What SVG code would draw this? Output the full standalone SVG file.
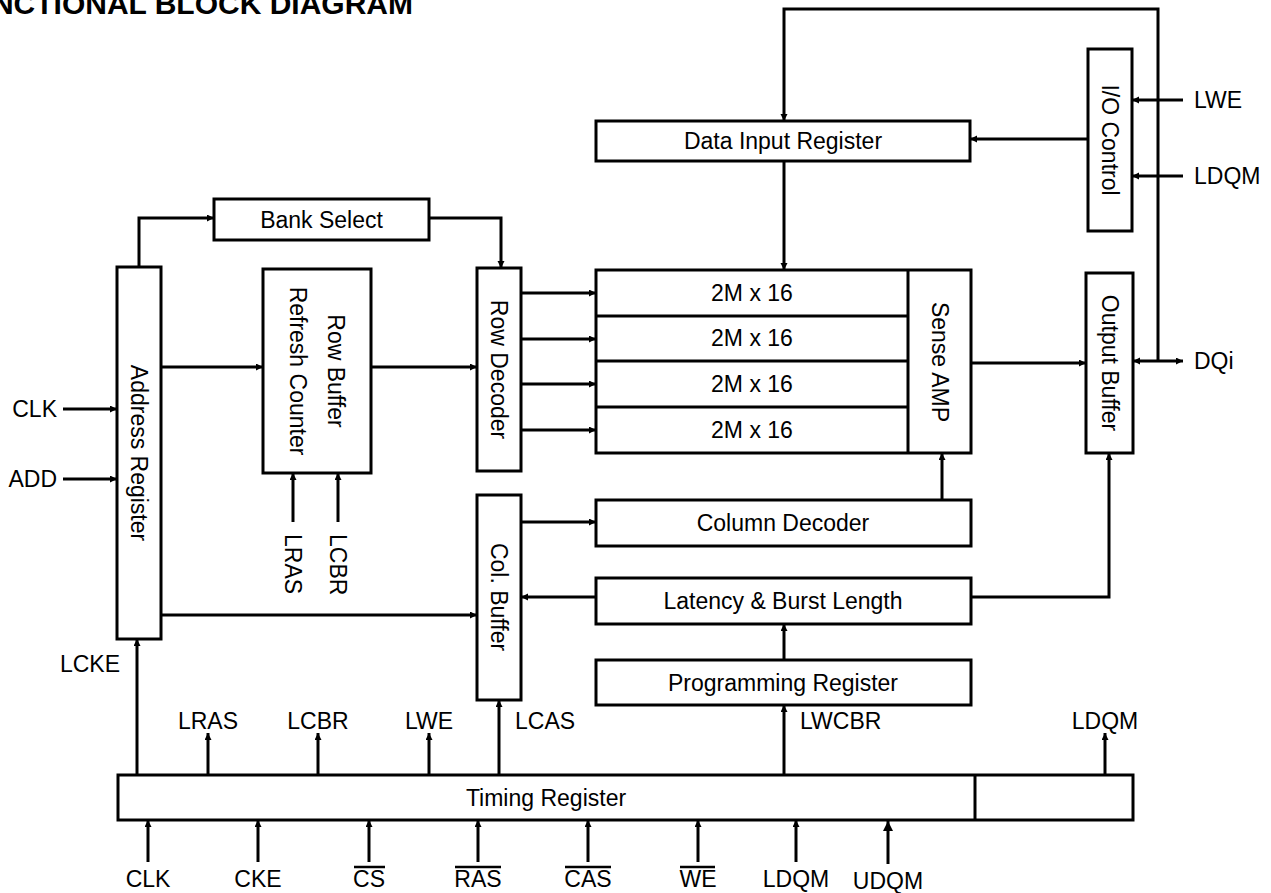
<svg xmlns="http://www.w3.org/2000/svg" width="1271" height="893" viewBox="0 0 1271 893">
<style>
text{font-family:"Liberation Sans",Arial,sans-serif;font-size:23px;fill:#000}
.t{font-size:30px;font-weight:bold}
.m{text-anchor:middle}
.e{text-anchor:end}
.b{fill:#fff;stroke:#000;stroke-width:3}
.c{fill:none;stroke:#000;stroke-width:3}
.a{marker-end:url(#ah)}
.ol{stroke:#000;stroke-width:2.5}
</style>
<defs>
<marker id="ah" markerUnits="userSpaceOnUse" markerWidth="8" markerHeight="8" refX="7" refY="3.5" orient="auto-start-reverse"><path d="M0,0 L7,3.5 L0,7 z" fill="#000"/></marker>
<marker id="ahb" markerUnits="userSpaceOnUse" markerWidth="12" markerHeight="12" refX="10" refY="5" orient="auto"><path d="M0,0 L10,5 L0,10 z" fill="#000"/></marker>
</defs>
<rect width="1271" height="893" fill="#fff"/>
<text class="t e" x="413" y="14">NCTIONAL BLOCK DIAGRAM</text>

<g id="connectors">
<path class="c a" d="M139,267 V218 H214"/>
<path class="c a" d="M429,218 H501 V268"/>
<path class="c a" d="M161,367 H263"/>
<path class="c a" d="M371,367 H477"/>
<path class="c a" d="M521,293 H596"/>
<path class="c a" d="M521,339 H596"/>
<path class="c a" d="M521,384 H596"/>
<path class="c a" d="M521,430 H596"/>
<path class="c a" d="M161,615 H477"/>
<path class="c a" d="M521,522 H596"/>
<path class="c a" d="M596,597 H521"/>
<path class="c a" d="M971,597 H1109 V453"/>
<path class="c a" d="M942,500 V453"/>
<path class="c a" d="M784,660 V624"/>
<path class="c a" d="M971,363 H1086"/>
<path class="c a" d="M784,161 V270"/>
<path class="c a" d="M1088,139 H970"/>
<path class="c a" d="M1158,361 V9 H784 V121"/>
<path class="c a" d="M1133,361 H1183" marker-start="url(#ah)"/>
<path class="c a" d="M1183,100 H1132"/>
<path class="c a" d="M1183,176 H1132"/>
<path class="c a" d="M63,409 H117"/>
<path class="c a" d="M63,479 H117"/>
<path class="c a" d="M137,775 V639"/>
<path class="c a" d="M293,522 V473"/>
<path class="c a" d="M338,522 V473"/>
<path class="c a" d="M208,775 V733"/>
<path class="c a" d="M318,775 V733"/>
<path class="c a" d="M429,775 V733"/>
<path class="c a" d="M499,775 V700"/>
<path class="c a" d="M784,775 V705"/>
<path class="c a" d="M1105,775 V733"/>
<path class="c a" d="M148,862 V820"/>
<path class="c a" d="M258,862 V820"/>
<path class="c a" d="M369,862 V820"/>
<path class="c a" d="M478,862 V820"/>
<path class="c a" d="M588,862 V820"/>
<path class="c a" d="M698,862 V820"/>
<path class="c a" d="M796,862 V820"/>
<path class="c" d="M888,864 V821" marker-end="url(#ahb)"/>
</g>

<g id="address-register">
<rect class="b" x="117" y="267" width="44" height="372"/>
<text class="m" transform="translate(131,453) rotate(90)">Address Register</text>
</g>
<g id="bank-select">
<rect class="b" x="214" y="199" width="215" height="41"/>
<text class="m" x="321.5" y="228">Bank Select</text>
</g>
<g id="row-buffer">
<rect class="b" x="263" y="269" width="108" height="204"/>
<text class="m" transform="translate(328,371) rotate(90)">Row Buffer</text>
<text class="m" transform="translate(290,371) rotate(90)">Refresh Counter</text>
</g>
<g id="row-decoder">
<rect class="b" x="477" y="268" width="44" height="203"/>
<text class="m" transform="translate(491,369.5) rotate(90)">Row Decoder</text>
</g>
<g id="col-buffer">
<rect class="b" x="477" y="495" width="44" height="205"/>
<text class="m" transform="translate(491,597) rotate(90)">Col. Buffer</text>
</g>
<g id="memory-array">
<rect class="b" x="596" y="270" width="375" height="183"/>
<path class="c" d="M908,270 V453 M596,316 H908 M596,361 H908 M596,407 H908"/>
<text class="m" x="752" y="301">2M x 16</text>
<text class="m" x="752" y="346">2M x 16</text>
<text class="m" x="752" y="392">2M x 16</text>
<text class="m" x="752" y="438">2M x 16</text>
<text class="m" transform="translate(932,362) rotate(90)">Sense AMP</text>
</g>
<g id="data-input-register">
<rect class="b" x="596" y="121" width="374" height="40"/>
<text class="m" x="783" y="149">Data Input Register</text>
</g>
<g id="io-control">
<rect class="b" x="1088" y="49" width="44" height="182"/>
<text class="m" transform="translate(1102,140) rotate(90)">I/O Control</text>
</g>
<g id="output-buffer">
<rect class="b" x="1086" y="273" width="47" height="180"/>
<text class="m" transform="translate(1101.5,363) rotate(90)">Output Buffer</text>
</g>
<g id="column-decoder">
<rect class="b" x="596" y="500" width="375" height="46"/>
<text class="m" x="783" y="531">Column Decoder</text>
</g>
<g id="latency-burst-length">
<rect class="b" x="596" y="578" width="375" height="46"/>
<text class="m" x="783" y="609">Latency &amp; Burst Length</text>
</g>
<g id="programming-register">
<rect class="b" x="596" y="660" width="375" height="45"/>
<text class="m" x="783" y="691">Programming Register</text>
</g>
<g id="timing-register">
<rect class="b" x="118" y="775" width="1015" height="45"/>
<path class="c" d="M975,775 V820"/>
<text class="m" x="546" y="806">Timing Register</text>
</g>

<g id="labels">
<text class="e" x="57" y="417">CLK</text>
<text class="e" x="57" y="487">ADD</text>
<text class="e" x="120" y="672">LCKE</text>
<text transform="translate(285,534) rotate(90)">LRAS</text>
<text transform="translate(330,534) rotate(90)">LCBR</text>
<text class="m" x="208" y="729">LRAS</text>
<text class="m" x="318" y="729">LCBR</text>
<text class="m" x="429" y="729">LWE</text>
<text x="515" y="729">LCAS</text>
<text x="800" y="729">LWCBR</text>
<text class="m" x="1105" y="729">LDQM</text>
<text x="1194" y="108">LWE</text>
<text x="1194" y="184">LDQM</text>
<text x="1194" y="369">DQi</text>
<text class="m" x="148" y="887">CLK</text>
<text class="m" x="258" y="887">CKE</text>
<text class="m" x="369" y="887">CS</text>
<text class="m" x="478" y="887">RAS</text>
<text class="m" x="588" y="887">CAS</text>
<text class="m" x="698" y="887">WE</text>
<text class="m" x="796" y="887">LDQM</text>
<text class="m" x="888" y="889">UDQM</text>
<path class="ol" d="M354,867 H385 M455,867 H501 M565,867 H611 M680,867 H715"/>
</g>
</svg>
